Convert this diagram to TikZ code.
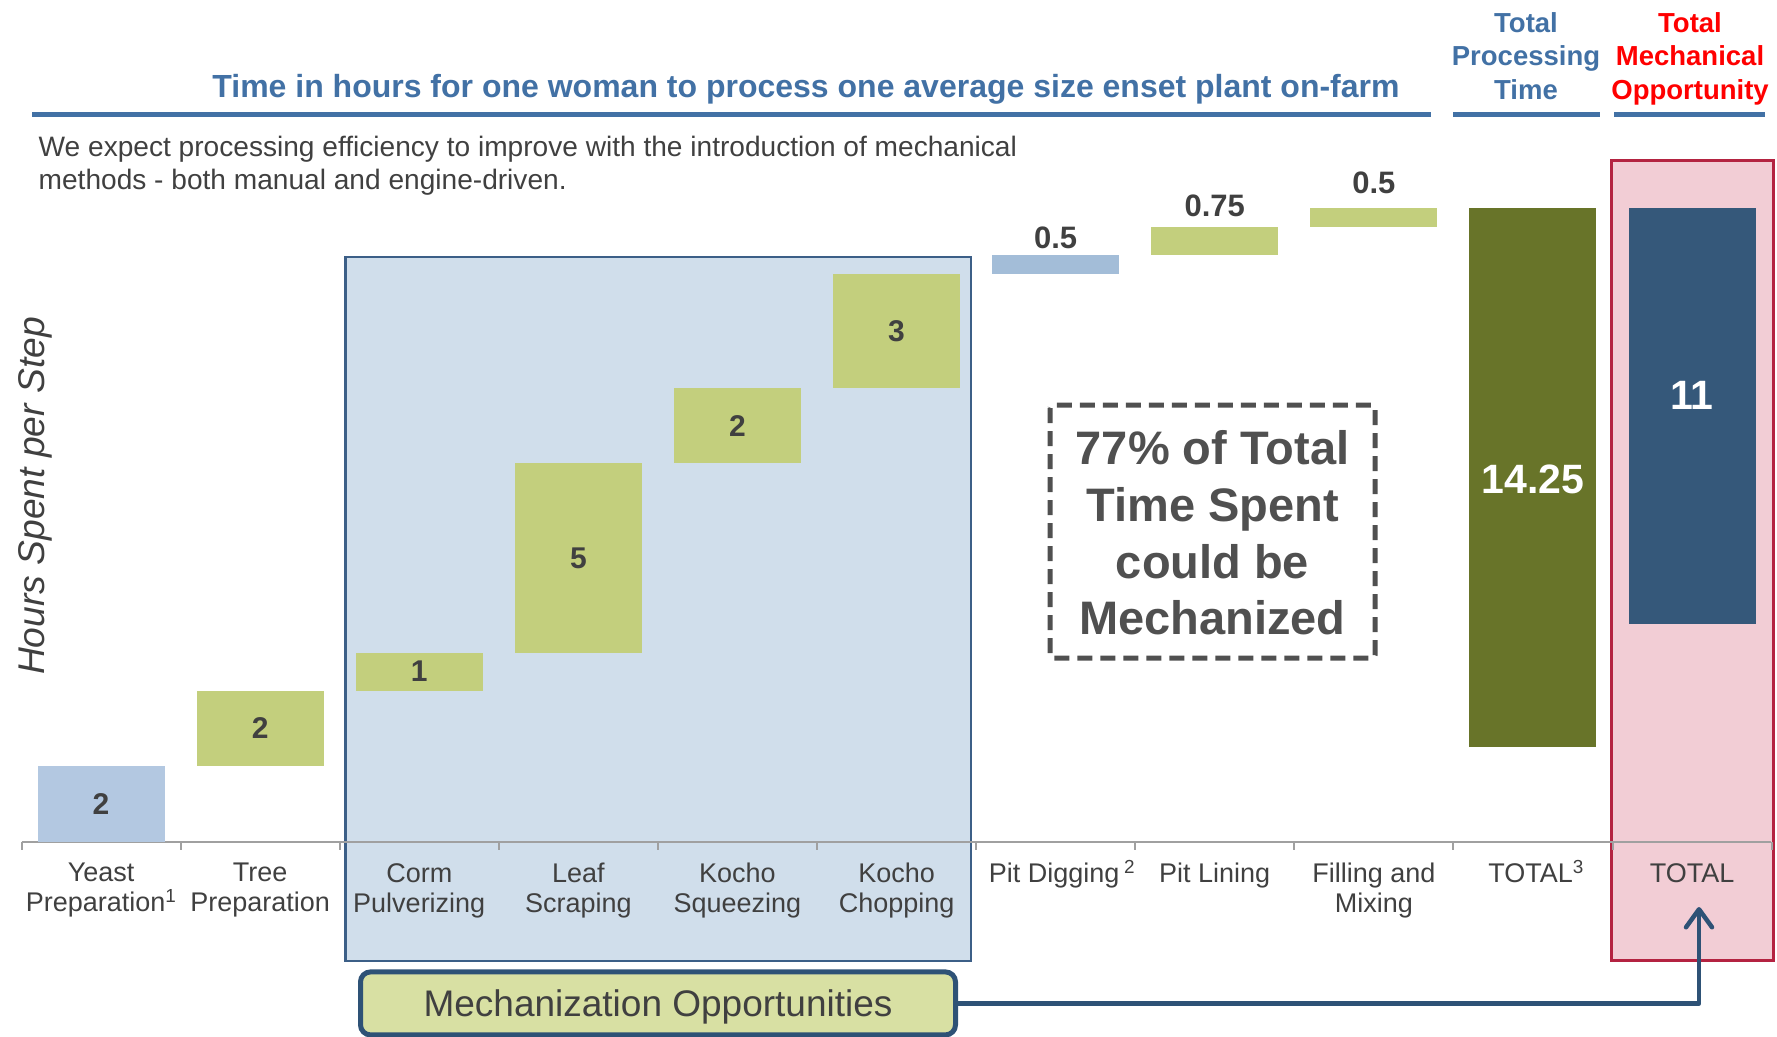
\documentclass[tikz,border=0pt]{standalone}
\usepackage{fontspec}
\setmainfont{Liberation Sans}
\usetikzlibrary{arrows.meta}
\definecolor{titleblue}{RGB}{66,113,165}
\definecolor{titlered}{RGB}{255,0,0}
\definecolor{txtgray}{RGB}{64,64,64}
\definecolor{boxgray}{RGB}{80,80,80}
\definecolor{axisgray}{RGB}{160,160,160}
\definecolor{lightbar}{RGB}{179,200,225}
\definecolor{pitbar}{RGB}{163,189,216}
\definecolor{greenbar}{RGB}{195,207,125}
\definecolor{olivebar}{RGB}{104,116,41}
\definecolor{navybar}{RGB}{53,88,122}
\definecolor{mechfill}{RGB}{208,222,235}
\definecolor{mechline}{RGB}{60,95,135}
\definecolor{pinkfill}{RGB}{242,205,213}
\definecolor{pinkline}{RGB}{180,35,65}
\definecolor{oppfill}{RGB}{216,224,163}
\definecolor{oppline}{RGB}{46,82,118}
\newcommand\setfs[2]{\fontsize{#1pt}{#2pt}\selectfont}
\newcommand\wfbar[6]{%
  \pgfmathsetmacro\wbcx{21.5+159.1*(#2+0.5)}%
  \pgfmathsetmacro\wbya{842-37.86*#3}%
  \pgfmathsetmacro\wbyb{842-37.86*#4}%
  \pgfmathsetmacro\wbhh{abs(\wbyb-\wbya)}%
  \pgfmathsetmacro\wbym{(\wbya+\wbyb)/2}%
  \node[barbox, fill=#5, minimum height=\wbhh pt] (#1) at (\wbcx,\wbym) {#6};%
}
\begin{document}
\begin{tikzpicture}[x=1pt,y=-1pt,
  barbox/.style={inner sep=0pt, minimum width=127pt, font=\setfs{30}{36}\bfseries, text=txtgray},
  ticklab/.style={anchor=north, align=center, inner sep=0pt, font=\setfs{27}{30.2}, text=txtgray},
  vallab/.style={inner sep=0pt, font=\setfs{31}{36}\bfseries, text=txtgray},
  headlab/.style={anchor=north, align=center, inner sep=0pt, font=\setfs{27.5}{33.5}\bfseries},
  uline/.style={line width=4.5pt, titleblue},
  bigwhite/.style={inner sep=0pt, font=\setfs{41}{46}\bfseries, text=white}]
\useasboundingbox (0,0) rectangle (1777,1036);
% highlighted regions
\draw[fill=mechfill, draw=mechline, line width=2.5pt] (345.5,257) rectangle (971,961);
\draw[fill=pinkfill, draw=pinkline, line width=2.5pt] (1611.7,160.5) rectangle (1773.3,960.7);
% titles
\node[anchor=base, inner sep=0pt, font=\setfs{32}{36}\bfseries, text=titleblue] (title) at (806,97.5)
  {Time in hours for one woman to process one average size enset plant on-farm};
\draw[uline] (32,114.5) -- (1431,114.5);
\node[headlab, text=titleblue] (tpt) at (1526,12) {Total\\Processing\\Time};
\draw[uline] (1453,114.5) -- (1600,114.5);
\node[headlab, text=titlered] (tmo) at (1690,12) {Total\\Mechanical\\Opportunity};
\draw[uline] (1614,114.5) -- (1765,114.5);
\node[anchor=north west, align=left, inner sep=0pt, font=\setfs{28.1}{33.4}, text=txtgray] (sub) at (38.5,136)
  {We expect processing efficiency to improve with the introduction of mechanical\\methods - both manual and engine-driven.};
% y label
\node[rotate=90, inner sep=0pt, font=\setfs{37.2}{40}\itshape, text=txtgray] (ylab) at (35,496) {Hours Spent per Step};
% axis
\draw[axisgray, line width=2.5pt] (21.5,842) -- (1771,842);
\foreach \k in {0,...,11} {
  \draw[axisgray, line width=2pt] ({21.5+159.1*\k},842) -- ({21.5+159.1*\k},850);
}
% bars
\wfbar{b0}{0}{0}{2}{lightbar}{2}
\wfbar{b1}{1}{2}{4}{greenbar}{2}
\wfbar{b2}{2}{4}{5}{greenbar}{1}
\wfbar{b3}{3}{5}{10}{greenbar}{5}
\wfbar{b4}{4}{10}{12}{greenbar}{2}
\wfbar{b5}{5}{12}{15}{greenbar}{3}
\wfbar{b6}{6}{15}{15.5}{pitbar}{}
\wfbar{b7}{7}{15.5}{16.25}{greenbar}{}
\wfbar{b8}{8}{16.25}{16.75}{greenbar}{}
\wfbar{b9}{9}{2.5}{16.75}{olivebar}{}
\wfbar{b10}{10}{5.75}{16.75}{navybar}{}
\node[vallab] (v6) at (b6.north |- 0,238) {0.5};
\node[vallab] (v7) at (b7.north |- 0,206) {0.75};
\node[vallab] (v8) at (b8.north |- 0,182.5) {0.5};
\node[bigwhite] (v9) at (1533,479.4) {14.25};
\node[bigwhite] (v10) at (1692,395.5) {11};
% category labels
\node[ticklab] (c0) at (101.05,863) {Yeast\\Preparation\smash{\textsuperscript{1}}};
\node[ticklab] (c1) at (260.15,863) {Tree\\Preparation};
\node[ticklab] (c2) at (419.25,863) {Corm\\Pulverizing};
\node[ticklab] (c3) at (578.35,863) {Leaf\\Scraping};
\node[ticklab] (c4) at (737.45,863) {Kocho\\Squeezing};
\node[ticklab] (c5) at (896.55,863) {Kocho\\Chopping};
\node[ticklab] (c6) at (1062,863) {Pit Digging\,\smash{\textsuperscript{2}}};
\node[ticklab] (c7) at (1214.75,863) {Pit Lining};
\node[ticklab] (c8) at (1373.85,863) {Filling and\\Mixing};
\node[ticklab] (c9) at (1536,863) {TOTAL\smash{\textsuperscript{3}}};
\node[ticklab] (c10) at (1692.05,863) {TOTAL};
% dashed callout
\draw[boxgray, line width=5pt, dash pattern=on 15pt off 8pt, rounded corners=3pt] (1050,405) rectangle (1375,658);
\node[anchor=north, align=center, inner sep=0pt, font=\setfs{47}{56.7}\bfseries, text=boxgray] (callout) at (1212.5,430.5)
  {77\% of Total\\Time Spent\\could be\\Mechanized};
% mechanization opportunities box and arrow
\node[draw=oppline, fill=oppfill, line width=5pt, rounded corners=10pt, minimum width=595pt, minimum height=63pt,
  inner sep=0pt, text depth=0pt, font=\setfs{37}{40}, text=txtgray] (opp) at (658,1003.4) {Mechanization Opportunities};
\coordinate (tip) at (1699,907);
\draw[oppline, line width=4.5pt, line join=round, -{Straight Barb[length=18pt,width=26pt,round]}] (opp.east) -| (tip);
\end{tikzpicture}
\end{document}
